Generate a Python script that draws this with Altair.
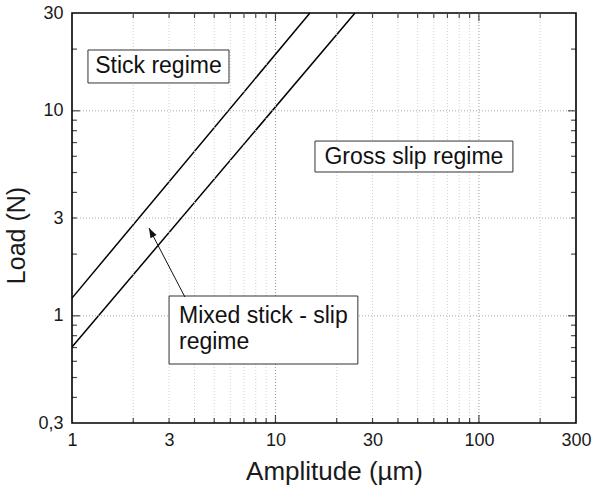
import altair as alt
import pandas as pd

# ---- data ----
amp_upper = [1.0, 14.77]
load_upper = [1.22, 30.0]
amp_lower = [1.0, 24.6]
load_lower = [0.704, 30.0]

x_label_values = [1, 3, 10, 30, 100, 300]
y_label_values = [0.3, 1, 3, 10, 30]

x_grid_minor = [2, 3, 4, 5, 6, 7, 8, 9, 20, 30, 40, 50, 60, 70, 80, 90, 200]
x_grid_major = [10, 100]
y_grid = [1, 3, 10]

x_major_ticks = [10, 100]
x_minor_ticks = [2, 3, 4, 5, 6, 7, 8, 9, 20, 30, 40, 50, 60, 70, 80, 90, 200]
y_major_ticks = [1, 10]
y_minor_ticks = [0.4, 0.5, 0.6, 0.7, 0.8, 0.9, 2, 3, 4, 5, 6, 7, 8, 9, 20]

# annotation boxes (data coordinates)
box_names = ["Stick", "Gross", "Mixed"]
box_x1 = [1.198, 15.64, 3.0]
box_x2 = [5.91, 146.9, 25.4]
box_y1 = [13.67, 5.03, 0.582]
box_y2 = [19.8, 7.12, 1.249]

center_texts = ["Stick regime", "Gross slip regime"]
center_x = [2.66, 47.9]
center_y = [16.45, 5.98]

left_texts = ["Mixed stick - slip", "regime"]
left_x = [3.357, 3.357]
left_y = [0.922, 0.689]

arrow_tail = (3.59, 1.235)
arrow_tip = (2.39, 2.68)

FONT = "Liberation Sans"
W, H = 504, 410

xs = alt.Scale(type="log", domain=[1, 300], nice=False)
ys = alt.Scale(type="log", domain=[0.3, 30], nice=False)

lines_df = pd.DataFrame({
    "amp": amp_upper + amp_lower,
    "load": load_upper + load_lower,
    "line": ["upper"] * len(amp_upper) + ["lower"] * len(amp_lower),
})

x_axis = alt.Axis(
    values=x_label_values, grid=False, ticks=False, domain=False,
    labelFlush=False, labelOverlap=False, labelFontSize=18, labelFont=FONT, labelColor="#1a1a1a",
    labelPadding=8, labelExpr="toString(datum.value)",
    title="Amplitude (µm)", titleFontSize=26, titleFont=FONT, titleFontWeight="normal",
    titleColor="#1a1a1a", titlePadding=9, titleX=262,
)
y_axis = alt.Axis(
    values=y_label_values, grid=False, ticks=False, domain=False,
    labelExpr="replace(toString(datum.value), '.', ',')",
    labelFlush=False, labelOverlap=False, labelFontSize=18, labelFont=FONT, labelColor="#1a1a1a",
    labelPadding=9,
    title="Load (N)", titleFontSize=25, titleFont=FONT, titleFontWeight="normal",
    titleColor="#1a1a1a", titlePadding=8, titleY=222,
)

X = lambda f: alt.X(f, scale=xs, axis=x_axis)
Y = lambda f: alt.Y(f, scale=ys, axis=y_axis)

# grid lines
gx_minor = alt.Chart(pd.DataFrame({"v": x_grid_minor})).mark_rule(
    color="#d0d0d0", strokeWidth=1, strokeDash=[1, 2]).encode(x=X("v:Q"))
gx_major = alt.Chart(pd.DataFrame({"v": x_grid_major})).mark_rule(
    color="#9a9a9a", strokeWidth=1, strokeDash=[1, 2]).encode(x=X("v:Q"))
gy = alt.Chart(pd.DataFrame({"v": y_grid})).mark_rule(
    color="#acacac", strokeWidth=1, strokeDash=[1, 2]).encode(y=Y("v:Q"))

lines = alt.Chart(lines_df).mark_line(color="black", strokeWidth=1.5).encode(
    x=X("amp:Q"), y=Y("load:Q"), detail="line:N",
)

boxes_df = pd.DataFrame({"name": box_names, "x1": box_x1, "x2": box_x2, "y1": box_y1, "y2": box_y2})
boxes = alt.Chart(boxes_df).mark_rect(fill="white", stroke="#333333", strokeWidth=1).encode(
    x=X("x1:Q"), x2="x2:Q", y=Y("y1:Q"), y2="y2:Q",
)

ct_df = pd.DataFrame({"t": center_texts, "x": center_x, "y": center_y})
ctext = alt.Chart(ct_df).mark_text(font=FONT, fontSize=23, color="#111111", align="center",
                                   baseline="middle").encode(
    x=X("x:Q"), y=Y("y:Q"), text="t:N")

lt_df = pd.DataFrame({"t": left_texts, "x": left_x, "y": left_y})
ltext = alt.Chart(lt_df).mark_text(font=FONT, fontSize=23, color="#111111", align="left",
                                   baseline="alphabetic").encode(
    x=X("x:Q"), y=Y("y:Q"), text="t:N")

arrow_df = pd.DataFrame({"x": [arrow_tail[0]], "y": [arrow_tail[1]],
                         "x2": [arrow_tip[0]], "y2": [arrow_tip[1]]})
arrow_line = alt.Chart(arrow_df).mark_rule(color="#111111", strokeWidth=1).encode(
    x=X("x:Q"), y=Y("y:Q"), x2="x2:Q", y2="y2:Q")
arrow_head = alt.Chart(arrow_df).mark_point(
    shape="M0,0 L-0.35,1 L0.35,1 Z", filled=True, color="#111111", opacity=1,
    size=380, angle=332.4).encode(x=X("x2:Q"), y=Y("y2:Q"))

def xticks(vals, at, length, sign):
    df = pd.DataFrame({"v": vals, "at": [at] * len(vals)})
    return alt.Chart(df).mark_tick(orient="vertical", size=length, thickness=1.2, color="black",
                                   yOffset=sign * length / 2).encode(x=X("v:Q"), y=Y("at:Q"))

def yticks(vals, at, length, sign):
    df = pd.DataFrame({"v": vals, "at": [at] * len(vals)})
    return alt.Chart(df).mark_tick(orient="horizontal", size=length, thickness=1.2, color="black",
                                   xOffset=sign * length / 2).encode(y=Y("v:Q"), x=X("at:Q"))

ticks = [
    xticks(x_minor_ticks, 0.3, 5, -1), xticks(x_major_ticks, 0.3, 8, -1),
    xticks(x_minor_ticks, 30, 5, 1), xticks(x_major_ticks, 30, 8, 1),
    yticks(y_minor_ticks, 1, 5, 1), yticks(y_major_ticks, 1, 8, 1),
    yticks(y_minor_ticks, 300, 5, -1), yticks(y_major_ticks, 300, 8, -1),
]

chart = alt.layer(lines, gx_minor, gx_major, gy, boxes, ctext, ltext, arrow_line, arrow_head,
                  *ticks).properties(
    width=W, height=H,
    autosize=alt.AutoSizeParams(type="none"),
    padding={"left": 72, "top": 13, "right": 17, "bottom": 68},
    background="white",
).configure_view(stroke="black", strokeWidth=1.6)

chart.save("out.html", embed_options={"renderer": "svg", "actions": False})
